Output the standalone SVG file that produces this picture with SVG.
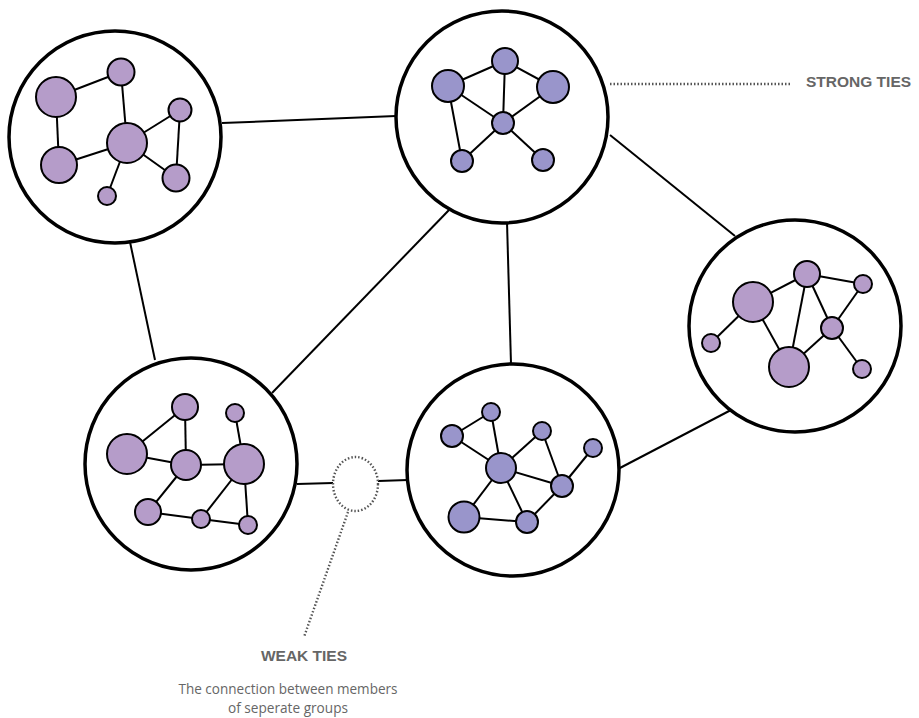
<svg xmlns="http://www.w3.org/2000/svg" width="919" height="718" viewBox="0 0 919 718">
<style>
.grp{fill:#fff;stroke:#000;stroke-width:3.5}
.e{stroke:#000;stroke-width:2;fill:none}
.p{fill:#b59cc9;stroke:#000;stroke-width:2}
.b{fill:#9995cb;stroke:#000;stroke-width:2}
.tie{stroke:#000;stroke-width:2;fill:none}
.dot{stroke:#555;stroke-width:2.4;stroke-dasharray:1.5 2;fill:none}
.lbl{font-family:"Liberation Sans",Arial,sans-serif;font-weight:bold;font-size:15.5px;fill:#666}
.sub{font-family:"Open Sans","Liberation Sans",sans-serif;font-size:14.5px;fill:#666}
</style>
<rect width="919" height="718" fill="#fff"/>
<g id="connectors">
<line class="tie" x1="222" y1="123" x2="396" y2="116"/>
<line class="tie" x1="130" y1="242" x2="155" y2="360"/>
<line class="tie" x1="449" y1="210" x2="272" y2="393"/>
<line class="tie" x1="507" y1="222" x2="511" y2="364"/>
<line class="tie" x1="610" y1="135" x2="735" y2="236"/>
<line class="tie" x1="731" y1="410" x2="618" y2="469"/>
<line class="tie" x1="297" y1="484" x2="333" y2="483"/>
<line class="tie" x1="378" y1="481" x2="408" y2="480"/>
<ellipse class="dot" cx="355.5" cy="484" rx="22.5" ry="27"/>
<line class="dot" x1="348" y1="512" x2="304" y2="637"/>
<line class="dot" x1="610" y1="84" x2="790" y2="84"/>
</g>
<g id="group1">
<circle class="grp" cx="115" cy="137" r="106"/>
<g class="e">
<line x1="56" y1="97" x2="121" y2="72"/><line x1="121" y1="72" x2="127" y2="143"/>
<line x1="56" y1="97" x2="59" y2="165"/><line x1="59" y1="165" x2="127" y2="143"/>
<line x1="127" y1="143" x2="180" y2="110"/><line x1="180" y1="110" x2="176" y2="178"/>
<line x1="127" y1="143" x2="176" y2="178"/><line x1="127" y1="143" x2="107" y2="196"/>
</g>
<circle class="p" cx="56" cy="97" r="20"/><circle class="p" cx="121" cy="72" r="13.5"/>
<circle class="p" cx="180" cy="110" r="11.5"/><circle class="p" cx="127" cy="143" r="20"/>
<circle class="p" cx="59" cy="165" r="18"/><circle class="p" cx="176" cy="178" r="13.5"/>
<circle class="p" cx="107" cy="196" r="9"/>
</g>
<g id="group2">
<circle class="grp" cx="502" cy="117" r="106"/>
<g class="e">
<line x1="448" y1="86" x2="505" y2="61"/><line x1="505" y1="61" x2="553" y2="87"/>
<line x1="505" y1="61" x2="503" y2="123"/><line x1="448" y1="86" x2="503" y2="123"/>
<line x1="553" y1="87" x2="503" y2="123"/><line x1="448" y1="86" x2="462" y2="161"/>
<line x1="503" y1="123" x2="462" y2="161"/><line x1="503" y1="123" x2="543" y2="160"/>
</g>
<circle class="b" cx="505" cy="61" r="13"/><circle class="b" cx="448" cy="86" r="16"/>
<circle class="b" cx="553" cy="87" r="16"/><circle class="b" cx="503" cy="123" r="11"/>
<circle class="b" cx="462" cy="161" r="11"/><circle class="b" cx="543" cy="160" r="11"/>
</g>
<g id="group3">
<circle class="grp" cx="795" cy="326" r="106"/>
<g class="e">
<line x1="711" y1="343" x2="753" y2="302"/><line x1="753" y1="302" x2="807" y2="274"/>
<line x1="753" y1="302" x2="789" y2="367"/><line x1="807" y1="274" x2="789" y2="367"/>
<line x1="807" y1="274" x2="863" y2="284"/><line x1="807" y1="274" x2="832" y2="328"/>
<line x1="863" y1="284" x2="832" y2="328"/><line x1="832" y1="328" x2="789" y2="367"/>
<line x1="832" y1="328" x2="862" y2="369"/>
</g>
<circle class="p" cx="753" cy="302" r="20"/><circle class="p" cx="807" cy="274" r="13"/>
<circle class="p" cx="863" cy="284" r="9"/><circle class="p" cx="832" cy="328" r="11"/>
<circle class="p" cx="711" cy="343" r="9"/><circle class="p" cx="789" cy="367" r="20"/>
<circle class="p" cx="862" cy="369" r="9"/>
</g>
<g id="group4">
<circle class="grp" cx="191" cy="464" r="106"/>
<g class="e">
<line x1="127" y1="454" x2="185" y2="407"/><line x1="185" y1="407" x2="186" y2="465"/>
<line x1="127" y1="454" x2="186" y2="465"/><line x1="186" y1="465" x2="244" y2="464"/>
<line x1="235" y1="413" x2="244" y2="464"/><line x1="186" y1="465" x2="148" y2="512"/>
<line x1="148" y1="512" x2="201" y2="519"/><line x1="201" y1="519" x2="244" y2="464"/>
<line x1="201" y1="519" x2="248" y2="525"/><line x1="244" y1="464" x2="248" y2="525"/>
</g>
<circle class="p" cx="185" cy="407" r="13"/><circle class="p" cx="235" cy="413" r="9"/>
<circle class="p" cx="127" cy="454" r="20"/><circle class="p" cx="186" cy="465" r="15"/>
<circle class="p" cx="244" cy="464" r="20"/><circle class="p" cx="148" cy="512" r="13"/>
<circle class="p" cx="201" cy="519" r="9"/><circle class="p" cx="248" cy="525" r="9"/>
</g>
<g id="group5">
<circle class="grp" cx="513" cy="470" r="106"/>
<g class="e">
<line x1="452" y1="436" x2="491" y2="412"/><line x1="491" y1="412" x2="501" y2="468"/>
<line x1="452" y1="436" x2="501" y2="468"/><line x1="501" y1="468" x2="542" y2="431"/>
<line x1="542" y1="431" x2="562" y2="486"/><line x1="501" y1="468" x2="562" y2="486"/>
<line x1="593" y1="448" x2="562" y2="486"/><line x1="501" y1="468" x2="464" y2="517"/>
<line x1="501" y1="468" x2="527" y2="522"/><line x1="464" y1="517" x2="527" y2="522"/>
<line x1="527" y1="522" x2="562" y2="486"/>
</g>
<circle class="b" cx="491" cy="412" r="9"/><circle class="b" cx="452" cy="436" r="11"/>
<circle class="b" cx="501" cy="468" r="15"/><circle class="b" cx="542" cy="431" r="9"/>
<circle class="b" cx="593" cy="448" r="9"/><circle class="b" cx="562" cy="486" r="11"/>
<circle class="b" cx="464" cy="517" r="15.5"/><circle class="b" cx="527" cy="522" r="11"/>
</g>
<g id="labels">
<text class="lbl" x="806" y="87">STRONG TIES</text>
<text class="lbl" x="304" y="661" text-anchor="middle">WEAK TIES</text>
<text class="sub" x="288" y="694" text-anchor="middle" textLength="219" lengthAdjust="spacingAndGlyphs">The connection between members</text>
<text class="sub" x="288" y="713" text-anchor="middle" textLength="120" lengthAdjust="spacingAndGlyphs">of seperate groups</text>
</g>
</svg>
